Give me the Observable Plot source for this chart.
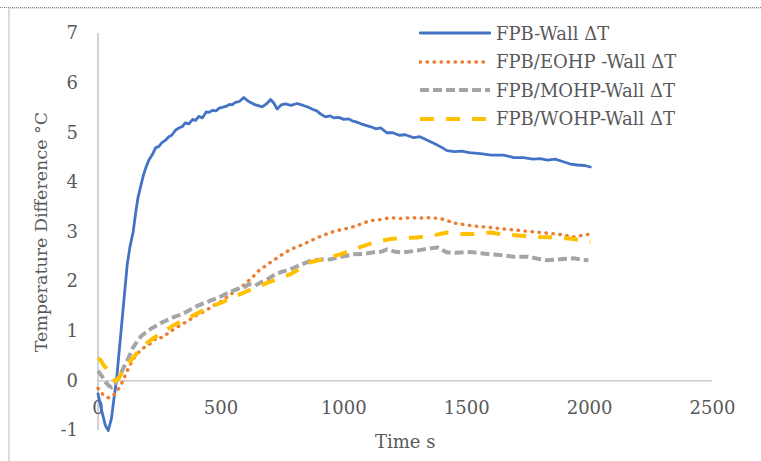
<!DOCTYPE html>
<html>
<head>
<meta charset="utf-8">
<script src="https://cdn.jsdelivr.net/npm/d3@7"></script>
<script src="https://cdn.jsdelivr.net/npm/@observablehq/plot@0.6"></script>
<style>
  html, body { margin: 0; padding: 0; background: #fff; }
  #wrap { position: relative; width: 761px; height: 461px; overflow: hidden; font-family: "DejaVu Serif", serif; }
  #dots { position: absolute; left: 0; top: 7px; width: 761px; height: 0; border-top: 1px dotted #7f7f7f; }
  #frame { position: absolute; left: 8px; top: 8px; width: 760px; height: 460px; border-top: 1px solid #e3e3e3; border-left: 2px solid #dcdcdc; box-sizing: border-box; }
  #chart { position: absolute; left: 0; top: 0; }
  #legend { position: absolute; left: 419px; top: 19px; color: #595959; font-size: 18px; }
  .row { display: flex; align-items: center; height: 28.5px; }
  .row svg { width: 72px; height: 10px; margin-right: 5px; }
</style>
</head>
<body>
<div id="wrap">
  <div id="dots"></div>
  <div id="frame"></div>
  <div id="chart"></div>
  <div id="legend"></div>
</div>
<script>
// Time (s) and temperature difference (°C)
const blueT = [0,15,30,42,55,65,75,90,105,119,130,143,155,163,175,185,195,207,220,235,247,260,275,288,300,315,330,342,355,370,385,397,410,425,440,451,465,480,495,505,520,535,545,559,575,593,610,625,641,655,668,685,702,715,729,745,763,785,810,835,858,875,890,905,925,945,960,980,1000,1020,1034,1050,1070,1090,1110,1130,1150,1175,1200,1225,1250,1285,1310,1340,1370,1400,1420,1450,1480,1510,1556,1600,1650,1692,1730,1770,1800,1828,1860,1890,1922,1950,1980,2003];
const blueV = [-0.26,-0.6,-0.9,-1.0,-0.75,-0.35,0.0,0.8,1.6,2.35,2.7,3.0,3.45,3.7,3.95,4.15,4.3,4.45,4.55,4.7,4.72,4.8,4.85,4.92,4.95,5.05,5.1,5.12,5.2,5.18,5.27,5.25,5.33,5.3,5.42,5.41,5.45,5.44,5.5,5.51,5.53,5.57,5.56,5.61,5.63,5.71,5.64,5.6,5.56,5.54,5.52,5.58,5.67,5.6,5.48,5.56,5.58,5.55,5.59,5.55,5.51,5.47,5.44,5.38,5.32,5.34,5.3,5.31,5.27,5.28,5.24,5.22,5.18,5.15,5.12,5.08,5.1,5.0,5.0,4.95,4.96,4.9,4.92,4.85,4.78,4.7,4.64,4.62,4.63,4.6,4.58,4.55,4.55,4.5,4.5,4.47,4.48,4.45,4.47,4.42,4.37,4.35,4.34,4.31];

const orangeT = [0,15,30,44,60,75,92,110,125,145,170,195,220,240,261,290,315,342,370,400,437,470,500,532,560,590,627,654,690,720,750,783,820,864,900,946,990,1020,1054,1080,1109,1150,1190,1230,1271,1310,1353,1393,1420,1450,1475,1530,1597,1650,1700,1732,1800,1868,1936,1970,2003];
const orangeV = [-0.15,-0.25,-0.32,-0.34,-0.3,-0.22,-0.1,0.1,0.27,0.45,0.6,0.7,0.77,0.88,0.87,0.98,1.06,1.14,1.22,1.32,1.41,1.52,1.6,1.71,1.82,1.92,2.08,2.22,2.35,2.45,2.55,2.65,2.72,2.82,2.9,2.99,3.05,3.08,3.13,3.18,3.23,3.25,3.29,3.27,3.29,3.28,3.29,3.27,3.23,3.18,3.16,3.12,3.09,3.06,3.04,3.02,2.99,2.96,2.9,2.93,2.96];

const grayT = [0,15,30,44,55,70,85,98,112,125,140,160,175,193,215,240,261,290,315,342,370,400,424,460,500,532,570,600,613,640,660,690,722,750,783,820,864,900,946,990,1040,1080,1122,1150,1176,1210,1244,1290,1325,1380,1420,1460,1500,1529,1597,1650,1692,1750,1790,1827,1880,1936,1970,1995];
const grayV = [0.2,0.1,-0.02,-0.1,-0.13,-0.05,0.1,0.2,0.35,0.47,0.65,0.8,0.9,0.97,1.05,1.12,1.18,1.24,1.3,1.34,1.42,1.5,1.55,1.62,1.7,1.78,1.86,1.9,1.95,1.92,1.98,2.05,2.15,2.2,2.25,2.33,2.42,2.44,2.45,2.5,2.55,2.56,2.59,2.6,2.65,2.6,2.59,2.62,2.65,2.69,2.59,2.58,2.6,2.59,2.55,2.53,2.5,2.5,2.46,2.43,2.45,2.47,2.44,2.43];

const yellowT = [0,10,25,37,50,60,71,85,100,115,139,165,193,225,261,300,342,380,424,470,500,532,580,641,690,749,783,820,864,920,986,1030,1081,1130,1190,1240,1298,1353,1420,1470,1529,1597,1650,1732,1800,1868,1936,1970,2003];
const yellowV = [0.46,0.42,0.3,0.24,0.12,0.04,0.0,0.05,0.2,0.33,0.44,0.6,0.74,0.86,0.97,1.1,1.21,1.3,1.41,1.52,1.57,1.65,1.75,1.88,1.98,2.08,2.15,2.26,2.39,2.46,2.55,2.63,2.72,2.8,2.86,2.88,2.89,2.92,2.99,2.96,2.96,2.99,2.95,2.92,2.9,2.89,2.86,2.83,2.79];

const seriesNames = ["FPB-Wall ΔT", "FPB/EOHP -Wall ΔT", "FPB/MOHP-Wall ΔT", "FPB/WOHP-Wall ΔT"];
const xTicks = [0, 500, 1000, 1500, 2000, 2500];
const yTicks = [-1, 0, 1, 2, 3, 4, 5, 6, 7];

const styles = [
  {color: "#4472C4", width: 2.8, dash: null, cap: "round"},
  {color: "#ED7D31", width: 3.4, dash: "0.5,6.5", cap: "round"},
  {color: "#A5A5A5", width: 4, dash: "9,4", cap: "butt"},
  {color: "#FFC000", width: 4, dash: "14,12", cap: "butt"}
];

const zip = (ts, vs) => ts.map((t, i) => ({t, v: vs[i]}));
const data = [zip(blueT, blueV), zip(orangeT, orangeV), zip(grayT, grayV), zip(yellowT, yellowV)];

const textColor = "#595959";
const axisColor = "#BFBFBF";

const lines = data.map((d, i) => Plot.line(d, {
  x: "t", y: "v",
  stroke: styles[i].color,
  strokeWidth: styles[i].width,
  strokeDasharray: styles[i].dash,
  strokeLinecap: styles[i].cap,
  strokeLinejoin: "round"
}));

const chart = Plot.plot({
  width: 761,
  height: 461,
  marginLeft: 97.5,
  marginRight: 49,
  marginTop: 33,
  marginBottom: 31,
  style: {fontFamily: "DejaVu Serif, serif", background: "transparent", overflow: "visible"},
  x: {domain: [0, 2500]},
  y: {domain: [-1, 7]},
  marks: [
    Plot.ruleX([0], {y1: -1, y2: 7, stroke: axisColor, strokeWidth: 1.4}),
    Plot.ruleY([0], {x1: 0, x2: 2500, stroke: axisColor, strokeWidth: 1.4}),
    Plot.axisY({ticks: yTicks, tickSize: 0, tickPadding: 20, label: null, fontSize: 18, fill: textColor, tickFormat: d => String(d)}),
    Plot.axisX({ticks: [], label: null, tickSize: 0}),
    Plot.text(xTicks, {x: d => d, y: 0, dy: 27, text: d => String(d), fontSize: 18, fill: textColor}),
    Plot.text(["Temperature Difference °C"], {frameAnchor: "left", textAnchor: "middle", dx: -57, rotate: -90, fontSize: 17.5, fill: textColor}),
    Plot.text(["Time s"], {frameAnchor: "bottom", textAnchor: "middle", dy: 17, fontSize: 18, fill: textColor}),
    ...lines
  ]
});
document.getElementById("chart").appendChild(chart);

// Legend
const legend = document.getElementById("legend");
seriesNames.forEach((name, i) => {
  const row = document.createElement("div");
  row.className = "row";
  const s = styles[i];
  row.innerHTML = `<svg viewBox="0 0 72 10"><line x1="1" y1="5" x2="71" y2="5" stroke="${s.color}" stroke-width="${s.width}" ${s.dash ? `stroke-dasharray="${s.dash}"` : ""} stroke-linecap="${s.cap}"/></svg><span>${name}</span>`;
  legend.appendChild(row);
});
</script>
</body>
</html>
